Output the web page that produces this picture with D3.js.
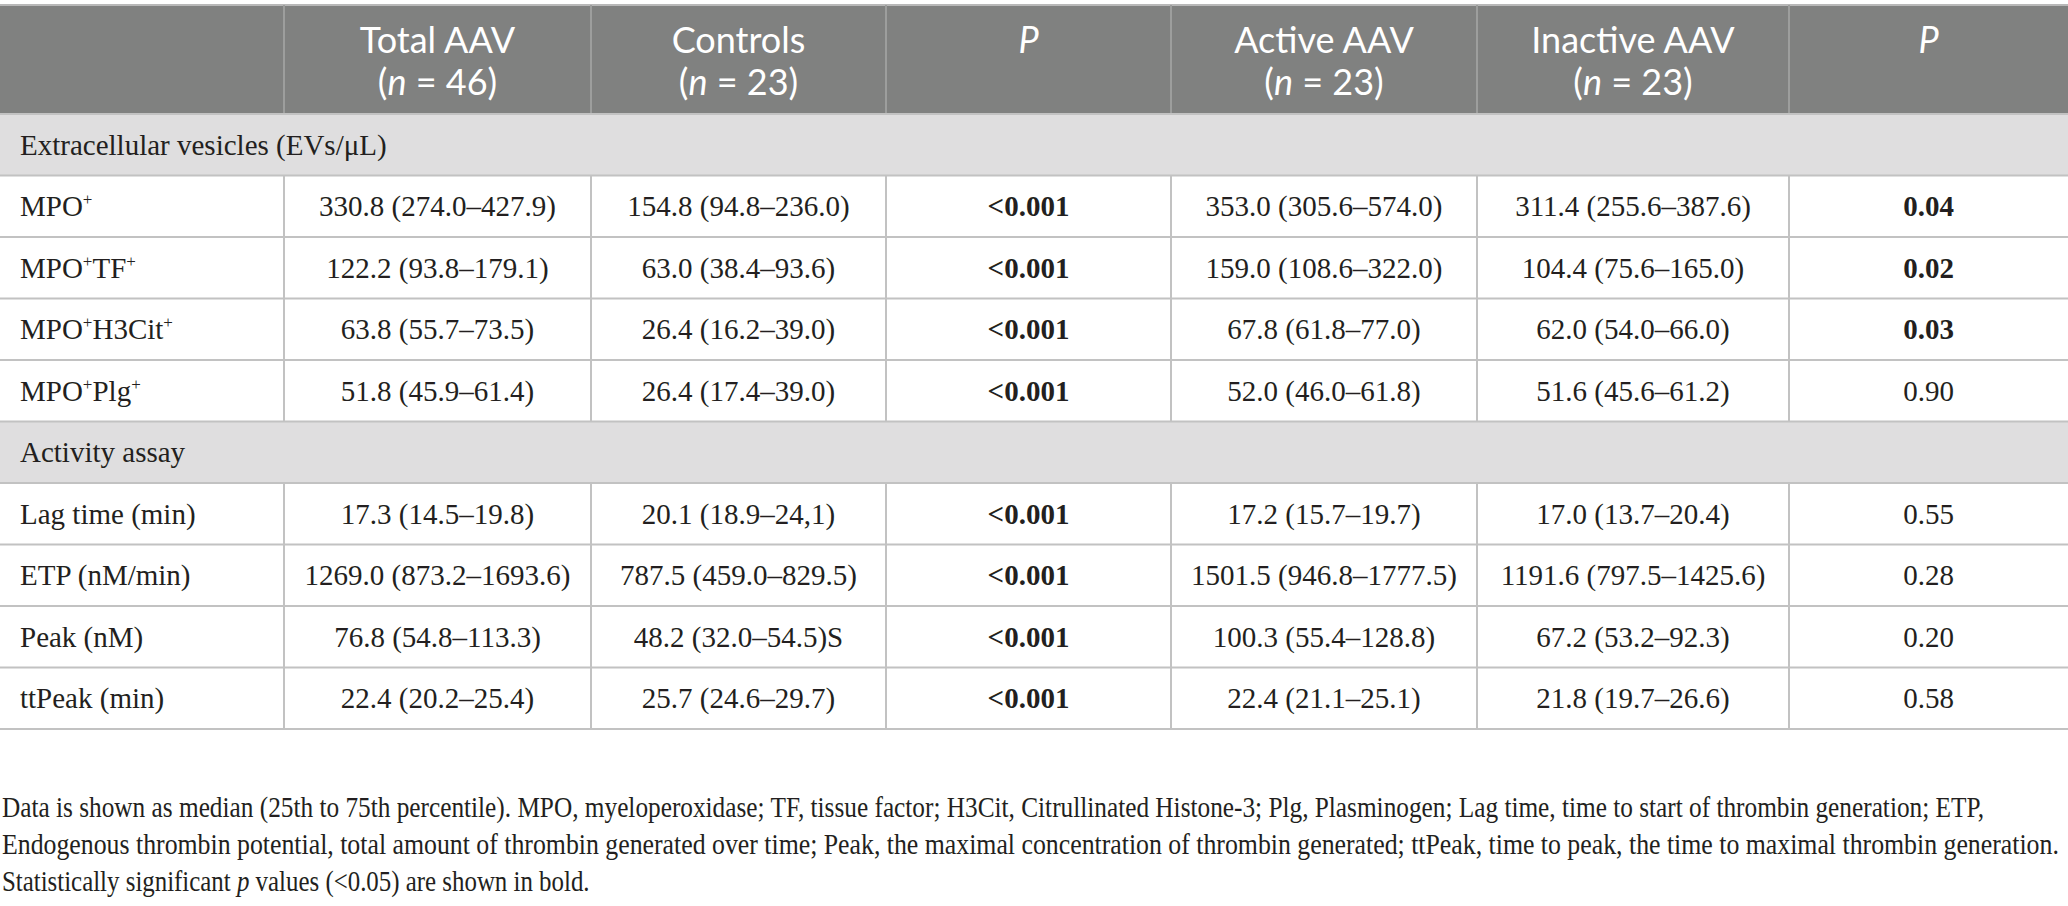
<!DOCTYPE html>
<html>
<head>
<meta charset="utf-8">
<script src="https://cdn.jsdelivr.net/npm/d3@7"></script>
<style>
  body { margin: 0; background: #fff; }
  svg { display: block; }
</style>
</head>
<body>
<div id="table"></div>
<script>
// column headers and group sizes
const columns = ["Total AAV", "Controls", "P", "Active AAV", "Inactive AAV", "P"];
const groupN = [46, 23, null, 23, 23, null];

// row labels ("+" is drawn as a superscript)
const sections = ["Extracellular vesicles (EVs/μL)", "Activity assay"];
const evMarkers = ["MPO+", "MPO+TF+", "MPO+H3Cit+", "MPO+Plg+"];
const assayMarkers = ["Lag time (min)", "ETP (nM/min)", "Peak (nM)", "ttPeak (min)"];

// median (25th–75th percentile) per group
const totalAAV = ["330.8 (274.0–427.9)", "122.2 (93.8–179.1)", "63.8 (55.7–73.5)", "51.8 (45.9–61.4)",
                  "17.3 (14.5–19.8)", "1269.0 (873.2–1693.6)", "76.8 (54.8–113.3)", "22.4 (20.2–25.4)"];
const controls = ["154.8 (94.8–236.0)", "63.0 (38.4–93.6)", "26.4 (16.2–39.0)", "26.4 (17.4–39.0)",
                  "20.1 (18.9–24,1)", "787.5 (459.0–829.5)", "48.2 (32.0–54.5)S", "25.7 (24.6–29.7)"];
const pTotalVsControls = ["<0.001", "<0.001", "<0.001", "<0.001", "<0.001", "<0.001", "<0.001", "<0.001"];
const activeAAV = ["353.0 (305.6–574.0)", "159.0 (108.6–322.0)", "67.8 (61.8–77.0)", "52.0 (46.0–61.8)",
                   "17.2 (15.7–19.7)", "1501.5 (946.8–1777.5)", "100.3 (55.4–128.8)", "22.4 (21.1–25.1)"];
const inactiveAAV = ["311.4 (255.6–387.6)", "104.4 (75.6–165.0)", "62.0 (54.0–66.0)", "51.6 (45.6–61.2)",
                     "17.0 (13.7–20.4)", "1191.6 (797.5–1425.6)", "67.2 (53.2–92.3)", "21.8 (19.7–26.6)"];
const pActiveVsInactive = ["0.04", "0.02", "0.03", "0.90", "0.55", "0.28", "0.20", "0.58"];

const footnote = [
  "Data is shown as median (25th to 75th percentile). MPO, myeloperoxidase; TF, tissue factor; H3Cit, Citrullinated Histone-3; Plg, Plasminogen; Lag time, time to start of thrombin generation; ETP,",
  "Endogenous thrombin potential, total amount of thrombin generated over time; Peak, the maximal concentration of thrombin generated; ttPeak, time to peak, the time to maximal thrombin generation.",
  "Statistically significant |p| values (<0.05) are shown in bold."
];

const width = 2068, height = 906;
const serif = "'Liberation Serif', 'Times New Roman', serif";
const sans = "Lato, 'Open Sans', sans-serif";
const ink = "#231f20";
const lineColor = "#c2c2c2";

// build row list: section rows + marker rows
const values = [totalAAV, controls, pTotalVsControls, activeAAV, inactiveAAV, pActiveVsInactive];
const rows = [];
rows.push({ type: "section", label: sections[0] });
evMarkers.forEach((m, i) => rows.push({ type: "data", label: m, i: i }));
rows.push({ type: "section", label: sections[1] });
assayMarkers.forEach((m, i) => rows.push({ type: "data", label: m, i: i + evMarkers.length }));

const svg = d3.select("#table").append("svg")
  .attr("width", width)
  .attr("height", height);

// scales
const colKeys = ["label"].concat(columns.map((c, i) => "c" + i));
const colEdges = [0, 284, 591, 886, 1171, 1477, 1789, 2068];
const x0 = d3.scaleOrdinal().domain(colKeys).range(colEdges.slice(0, -1));
const x1 = d3.scaleOrdinal().domain(colKeys).range(colEdges.slice(1));
const xc = k => (x0(k) + x1(k)) / 2;

const headerTop = 5, headerBottom = 114, tableBottom = 729;
const y = d3.scaleBand()
  .domain(d3.range(rows.length))
  .range([headerBottom, tableBottom]);

// header
svg.append("rect")
  .attr("x", 0).attr("y", headerTop)
  .attr("width", width).attr("height", headerBottom - headerTop)
  .attr("fill", "#808180");
svg.append("line")
  .attr("x1", 0).attr("x2", width)
  .attr("y1", headerTop).attr("y2", headerTop)
  .attr("stroke", "#b8b8b8").attr("stroke-width", 2);

svg.selectAll(".hsep")
  .data(colKeys.slice(1))
  .enter().append("line")
  .attr("x1", d => x0(d)).attr("x2", d => x0(d))
  .attr("y1", headerTop).attr("y2", headerBottom)
  .attr("stroke", "#9d9e9d").attr("stroke-width", 2);

columns.forEach((name, i) => {
  svg.append("text")
    .attr("x", xc("c" + i))
    .attr("y", 53)
    .attr("text-anchor", "middle")
    .attr("font-family", sans)
    .attr("font-size", 36)
    .attr("fill", "#fff")
    .attr("font-style", name === "P" ? "italic" : "normal")
    .text(name);

  if (groupN[i] !== null) {
    const t = svg.append("text")
      .attr("x", xc("c" + i))
      .attr("y", 95)
      .attr("text-anchor", "middle")
      .attr("font-family", sans)
      .attr("font-size", 36)
      .attr("fill", "#fff");
    t.append("tspan").text("(");
    t.append("tspan").attr("font-style", "italic").text("n");
    t.append("tspan").text(" = " + groupN[i] + ")");
  }
});

// section row backgrounds
const indexed = rows.map((r, i) => ({ r: r, i: i }));
svg.selectAll(".secbg")
  .data(indexed.filter(d => d.r.type === "section"))
  .enter().append("rect")
  .attr("x", 0).attr("y", d => y(d.i))
  .attr("width", width).attr("height", y.bandwidth())
  .attr("fill", "#dfdedf");

// vertical lines in data rows
const dataRows = indexed.filter(d => d.r.type === "data");
colKeys.slice(1).forEach(k => {
  svg.selectAll(null)
    .data(dataRows)
    .enter().append("line")
    .attr("x1", x0(k)).attr("x2", x0(k))
    .attr("y1", d => y(d.i)).attr("y2", d => y(d.i) + y.bandwidth())
    .attr("stroke", lineColor).attr("stroke-width", 2);
});

// horizontal lines
svg.selectAll(".hline")
  .data(d3.range(rows.length + 1))
  .enter().append("line")
  .attr("x1", 0).attr("x2", width)
  .attr("y1", i => i < rows.length ? y(i) : tableBottom)
  .attr("y2", i => i < rows.length ? y(i) : tableBottom)
  .attr("stroke", lineColor).attr("stroke-width", 2);

// row labels
const labelX = 20;
svg.selectAll(".label")
  .data(indexed)
  .enter().append("text")
  .attr("x", labelX)
  .attr("y", d => y(d.i) + y.bandwidth() / 2 + 10)
  .attr("font-family", serif)
  .attr("font-size", 29)
  .attr("fill", ink)
  .each(function(d) {
    const t = d3.select(this);
    const parts = d.r.label.split("+");
    let raised = false;
    parts.forEach((p, j) => {
      if (p) {
        t.append("tspan").attr("dy", raised ? 11 : 0).text(p);
        raised = false;
      }
      if (j < parts.length - 1) {
        t.append("tspan").attr("font-size", 17).attr("dy", -11).text("+");
        raised = true;
      }
    });
  });

// cell values
values.forEach((col, c) => {
  const key = "c" + c;
  svg.selectAll(null)
    .data(dataRows)
    .enter().append("text")
    .attr("x", xc(key))
    .attr("y", d => y(d.i) + y.bandwidth() / 2 + 10)
    .attr("text-anchor", "middle")
    .attr("font-family", serif)
    .attr("font-size", 29)
    .attr("fill", ink)
    .attr("font-weight", d => {
      if (columns[c] !== "P") return "normal";
      const num = parseFloat(col[d.r.i].replace("<", ""));
      return num < 0.05 ? "bold" : "normal";
    })
    .text(d => col[d.r.i]);
});

// footnote: condensed horizontally to the reference line widths
const fnWidths = [1983, 2058, 588];
footnote.forEach((line, i) => {
  const g = svg.append("g");
  const t = g.append("text")
    .attr("x", 0)
    .attr("y", 0)
    .attr("font-family", serif)
    .attr("font-size", 30)
    .attr("fill", ink);
  line.split("|").forEach((p, j) => {
    t.append("tspan").attr("font-style", j % 2 === 1 ? "italic" : "normal").text(p);
  });
  const natural = t.node().getComputedTextLength();
  const sx = fnWidths[i] / natural;
  g.attr("transform", "translate(2," + (817 + i * 37) + ") scale(" + sx + ",1)");
});
</script>
</body>
</html>
